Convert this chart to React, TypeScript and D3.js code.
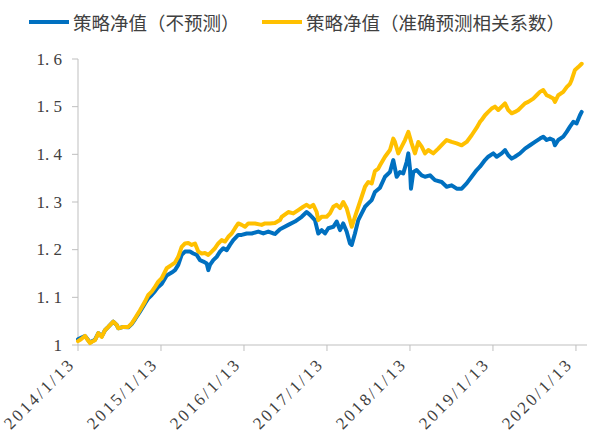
import React from 'react';
import * as d3 from 'd3';

// Category axis labels (one per year from the start date)
const xTickLabels = ['2014/1/13', '2015/1/13', '2016/1/13', '2017/1/13', '2018/1/13', '2019/1/13', '2020/1/13'];
const xTickYears = [0, 1, 2, 3, 4, 5, 6];
const yTicks = [1, 1.1, 1.2, 1.3, 1.4, 1.5, 1.6];
const yTickLabels = ['1', '1. 1', '1. 2', '1. 3', '1. 4', '1. 5', '1. 6'];
const seriesNames = ['策略净值（不预测）', '策略净值（准确预测相关系数）'];

// Series 1: 策略净值（不预测） — time in years since 2014/1/13, net value
const yearsNoPred = [0, 0.036, 0.084, 0.12, 0.145, 0.181, 0.205, 0.245, 0.286, 0.325, 0.365, 0.425, 0.466, 0.486, 0.546, 0.606, 0.647, 0.687, 0.747, 0.807, 0.847, 0.888, 0.928, 0.967, 1.008, 1.069, 1.129, 1.169, 1.208, 1.249, 1.289, 1.349, 1.389, 1.43, 1.47, 1.51, 1.551, 1.57, 1.59, 1.63, 1.671, 1.711, 1.751, 1.792, 1.831, 1.871, 1.931, 1.972, 2.033, 2.093, 2.172, 2.233, 2.293, 2.353, 2.373, 2.434, 2.534, 2.614, 2.695, 2.755, 2.795, 2.855, 2.895, 2.936, 2.976, 3.016, 3.076, 3.117, 3.157, 3.196, 3.237, 3.277, 3.298, 3.337, 3.377, 3.418, 3.458, 3.498, 3.539, 3.578, 3.639, 3.699, 3.759, 3.799, 3.84, 3.88, 3.919, 3.96, 3.98, 4.0, 4.012, 4.04, 4.081, 4.141, 4.181, 4.241, 4.301, 4.382, 4.442, 4.502, 4.563, 4.623, 4.683, 4.743, 4.804, 4.843, 4.904, 4.943, 5.004, 5.045, 5.105, 5.145, 5.184, 5.225, 5.265, 5.325, 5.386, 5.446, 5.506, 5.566, 5.606, 5.647, 5.687, 5.727, 5.747, 5.787, 5.847, 5.888, 5.928, 5.968, 6.008, 6.048, 6.069];
const navNoPred = [1.012, 1.015, 1.019, 1.011, 1.005, 1.009, 1.011, 1.025, 1.018, 1.031, 1.038, 1.049, 1.042, 1.035, 1.038, 1.037, 1.044, 1.054, 1.07, 1.087, 1.098, 1.105, 1.113, 1.122, 1.128, 1.146, 1.152, 1.157, 1.168, 1.189, 1.196, 1.196, 1.192, 1.189, 1.178, 1.175, 1.171, 1.157, 1.168, 1.178, 1.185, 1.196, 1.203, 1.199, 1.21, 1.22, 1.231, 1.231, 1.234, 1.234, 1.238, 1.234, 1.238, 1.234, 1.233, 1.243, 1.252, 1.259, 1.269, 1.279, 1.273, 1.262, 1.234, 1.241, 1.234, 1.245, 1.248, 1.259, 1.241, 1.255, 1.238, 1.213, 1.21, 1.234, 1.262, 1.276, 1.29, 1.297, 1.304, 1.321, 1.33, 1.353, 1.363, 1.388, 1.353, 1.363, 1.36, 1.384, 1.402, 1.37, 1.328, 1.363, 1.367, 1.356, 1.353, 1.356, 1.346, 1.342, 1.332, 1.335, 1.328, 1.328, 1.339, 1.353, 1.367, 1.374, 1.388, 1.395, 1.402, 1.395, 1.402, 1.409, 1.398, 1.391, 1.395, 1.402, 1.412, 1.419, 1.426, 1.433, 1.437, 1.43, 1.433, 1.43, 1.419, 1.43, 1.437, 1.447, 1.458, 1.468, 1.465, 1.482, 1.489];

// Series 2: 策略净值（准确预测相关系数）
const yearsPred = [0, 0.036, 0.084, 0.12, 0.145, 0.181, 0.205, 0.245, 0.286, 0.325, 0.365, 0.425, 0.466, 0.486, 0.546, 0.606, 0.647, 0.687, 0.747, 0.807, 0.847, 0.888, 0.928, 0.967, 1.008, 1.069, 1.129, 1.169, 1.208, 1.249, 1.289, 1.329, 1.37, 1.41, 1.449, 1.49, 1.53, 1.57, 1.611, 1.651, 1.69, 1.731, 1.771, 1.811, 1.852, 1.892, 1.931, 1.972, 2.012, 2.052, 2.133, 2.213, 2.253, 2.313, 2.373, 2.434, 2.454, 2.534, 2.594, 2.654, 2.714, 2.755, 2.795, 2.835, 2.876, 2.895, 2.936, 2.996, 3.036, 3.076, 3.117, 3.157, 3.196, 3.237, 3.277, 3.298, 3.337, 3.377, 3.418, 3.458, 3.498, 3.539, 3.578, 3.618, 3.639, 3.699, 3.759, 3.799, 3.819, 3.859, 3.9, 3.94, 3.98, 4.02, 4.06, 4.1, 4.141, 4.181, 4.22, 4.281, 4.341, 4.401, 4.442, 4.502, 4.563, 4.623, 4.683, 4.743, 4.804, 4.843, 4.863, 4.904, 4.943, 4.984, 5.024, 5.064, 5.105, 5.145, 5.184, 5.225, 5.265, 5.305, 5.346, 5.386, 5.425, 5.486, 5.526, 5.566, 5.606, 5.647, 5.687, 5.727, 5.747, 5.787, 5.847, 5.888, 5.928, 5.948, 5.988, 6.028, 6.069];
const navPred = [1.008, 1.012, 1.019, 1.01, 1.004, 1.008, 1.01, 1.025, 1.017, 1.031, 1.038, 1.049, 1.042, 1.035, 1.038, 1.038, 1.045, 1.056, 1.073, 1.091, 1.105, 1.112, 1.122, 1.133, 1.14, 1.161, 1.168, 1.173, 1.185, 1.206, 1.213, 1.214, 1.21, 1.213, 1.196, 1.192, 1.193, 1.189, 1.196, 1.203, 1.213, 1.22, 1.217, 1.227, 1.234, 1.245, 1.255, 1.252, 1.248, 1.255, 1.255, 1.252, 1.255, 1.255, 1.256, 1.262, 1.269, 1.279, 1.276, 1.283, 1.29, 1.294, 1.289, 1.294, 1.279, 1.262, 1.269, 1.269, 1.276, 1.29, 1.294, 1.287, 1.3, 1.287, 1.262, 1.248, 1.269, 1.29, 1.311, 1.332, 1.342, 1.339, 1.365, 1.37, 1.377, 1.395, 1.409, 1.433, 1.426, 1.402, 1.416, 1.43, 1.447, 1.423, 1.402, 1.426, 1.416, 1.402, 1.409, 1.402, 1.412, 1.423, 1.43, 1.426, 1.423, 1.419, 1.426, 1.44, 1.456, 1.468, 1.472, 1.482, 1.489, 1.496, 1.5, 1.493, 1.5, 1.507, 1.493, 1.486, 1.489, 1.493, 1.5, 1.507, 1.51, 1.517, 1.524, 1.531, 1.535, 1.524, 1.521, 1.517, 1.51, 1.524, 1.531, 1.541, 1.548, 1.556, 1.577, 1.583, 1.59];

const BLUE = '#0070C0';
const GOLD = '#FFC000';
const AXIS = '#BFBFBF';
const TEXT = '#404040';

export default function App() {
  const W = 591;
  const H = 438;
  const x = d3.scaleLinear().domain([0, 6.133]).range([78, 587]);
  const y = d3.scaleLinear().domain([1, 1.6]).range([345, 59]);

  const line = d3
    .line<[number, number]>()
    .x((d) => x(d[0]))
    .y((d) => y(d[1]))
    .curve(d3.curveLinear);

  const blueData: [number, number][] = yearsNoPred.map((t, i) => [t, navNoPred[i]]);
  const goldData: [number, number][] = yearsPred.map((t, i) => [t, navPred[i]]);

  const [x0, x1] = x.range();
  const [yb, yt] = y.range();

  return (
    <svg
      width={W}
      height={H}
      style={{ position: 'absolute', left: 0, top: 0, background: '#fff' }}
    >
      <rect x={0} y={0} width={W} height={H} fill="#fff" />
      {/* Legend */}
      <g>
        <line x1={29} x2={69} y1={22} y2={22} stroke={BLUE} strokeWidth={4} />
        <text x={73} y={22} dominantBaseline="central" fontFamily="'Noto Sans CJK SC'" fontSize={18.5} fill={TEXT}>
          {seriesNames[0]}
        </text>
        <line x1={262} x2={302} y1={22} y2={22} stroke={GOLD} strokeWidth={4} />
        <text x={306} y={22} dominantBaseline="central" fontFamily="'Noto Sans CJK SC'" fontSize={18.5} fill={TEXT}>
          {seriesNames[1]}
        </text>
      </g>

      {/* Y axis */}
      <line x1={x0} x2={x0} y1={yt} y2={yb} stroke={AXIS} strokeWidth={1} />
      {yTicks.map((v, i) => (
        <g key={v}>
          <line x1={x0 - 6} x2={x0} y1={y(v)} y2={y(v)} stroke={AXIS} strokeWidth={1} />
          <text
            x={x0 - 16}
            y={y(v)}
            textAnchor="end"
            dominantBaseline="central"
            fontFamily="'Liberation Serif'"
            fontSize={17}
            fill={TEXT}
          >
            {yTickLabels[i]}
          </text>
        </g>
      ))}

      {/* X axis */}
      <line x1={x0} x2={x1} y1={yb} y2={yb} stroke={AXIS} strokeWidth={1} />
      {xTickYears.map((t, i) => (
        <g key={t}>
          <line x1={x(t)} x2={x(t)} y1={yb} y2={yb + 6} stroke={AXIS} strokeWidth={1} />
          <text
            transform={`translate(${x(t) - 2},${yb + 20}) rotate(-45)`}
            textAnchor="end"
            fontFamily="'Liberation Serif'"
            fontSize={17}
            letterSpacing={2.6}
            fill={TEXT}
          >
            {xTickLabels[i]}
          </text>
        </g>
      ))}

      {/* Lines */}
      <path d={line(blueData) || ''} fill="none" stroke={BLUE} strokeWidth={4} strokeLinejoin="round" strokeLinecap="round" />
      <path d={line(goldData) || ''} fill="none" stroke={GOLD} strokeWidth={4} strokeLinejoin="round" strokeLinecap="round" />
    </svg>
  );
}
